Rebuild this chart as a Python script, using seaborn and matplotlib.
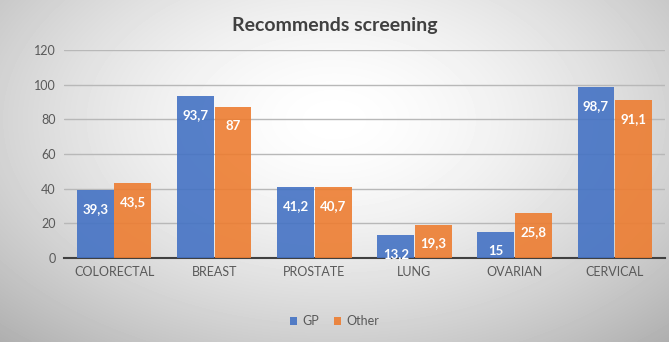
import numpy as np
import pandas as pd
import matplotlib
matplotlib.use('Agg')
import matplotlib.pyplot as plt
import seaborn as sns

# Chart data
categories = ['COLORECTAL', 'BREAST', 'PROSTATE', 'LUNG', 'OVARIAN', 'CERVICAL']
gp_values = [39.3, 93.7, 41.2, 13.2, 15.0, 98.7]
other_values = [43.5, 87.0, 40.7, 19.3, 25.8, 91.1]
series_names = ['GP', 'Other']

df = pd.DataFrame({
    'Cancer': categories * 2,
    'Value': gp_values + other_values,
    'Group': [series_names[0]] * len(categories) + [series_names[1]] * len(categories),
})

sns.set_style('white')
plt.rcParams['font.family'] = ['Lato', 'DejaVu Sans']

fig = plt.figure(figsize=(6.69, 3.42), dpi=100)

# Radial grey gradient background like the Office chart style
bg = fig.add_axes([0, 0, 1, 1], zorder=-10)
yy, xx = np.mgrid[0:1:342j, 0:1:669j]
r = np.sqrt(((xx - 0.5) / 0.62) ** 2 + ((yy - 0.35) / 0.75) ** 2)
shade = 1.0 - 0.24 * np.clip(r, 0, 1.2) ** 1.6
bg.imshow(shade, cmap='gray', vmin=0, vmax=1, aspect='auto', extent=[0, 1, 1, 0])
bg.axis('off')

ax = fig.add_axes([0.0957, 0.2456, 0.898, 0.608])
ax.patch.set_alpha(0)

palette = {'GP': '#4472C4', 'Other': '#ED7D31'}
sns.barplot(data=df, x='Cancer', y='Value', hue='Group', palette=palette,
            width=0.75, gap=0.02, saturation=1, alpha=0.9, linewidth=0,
            ax=ax, zorder=3)

for cont in ax.containers:
    labels = [('%g' % b.get_height()).replace('.', ',') for b in cont]
    ax.bar_label(cont, labels=labels, label_type='edge', padding=-18,
                 color='white', fontsize=9.5, fontweight='bold')

ax.set_ylim(0, 120)
ax.set_yticks(range(0, 121, 20))
ax.yaxis.grid(True, color='#b8b8b8', linewidth=1, zorder=0)
ax.set_axisbelow(True)
for s in ['top', 'right', 'left']:
    ax.spines[s].set_visible(False)
ax.spines['bottom'].set_color('#404040')
ax.spines['bottom'].set_linewidth(1.5)
ax.tick_params(axis='both', length=0, labelsize=9, colors='#595959', pad=6)
ax.set_xlabel('')
ax.set_ylabel('')

ax.legend(loc='upper center', bbox_to_anchor=(0.45, -0.22), ncol=2, frameon=False,
          fontsize=9, handlelength=0.6, handleheight=0.6, handletextpad=0.4,
          columnspacing=1.2, labelcolor='#595959')

fig.text(0.5, 0.925, 'Recommends screening', ha='center', va='center',
         fontsize=14, fontweight='bold', color='#404040')

fig.savefig('out.png', dpi=100)
